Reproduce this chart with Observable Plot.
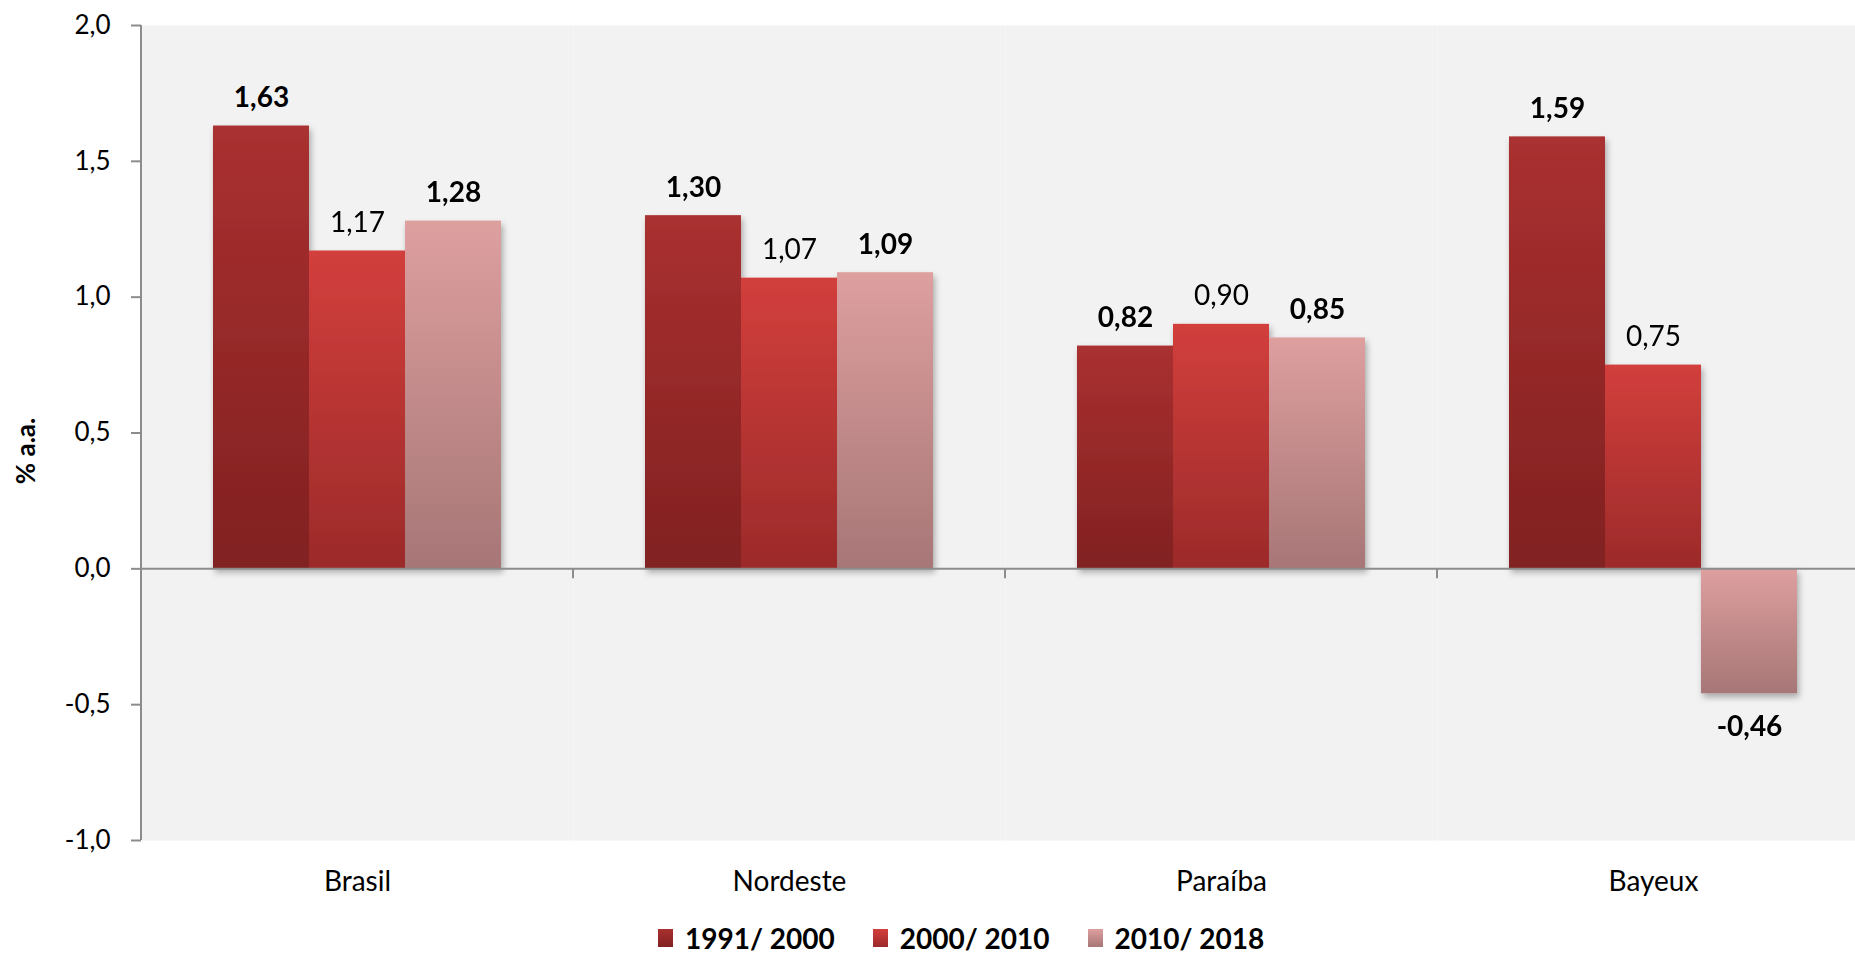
<!DOCTYPE html>
<html>
<head>
<meta charset="utf-8">
<script src="https://cdn.jsdelivr.net/npm/d3@7"></script>
<script src="https://cdn.jsdelivr.net/npm/@observablehq/plot@0.6"></script>
<style>
  html, body { margin: 0; padding: 0; background: white; overflow: hidden; }
  #wrap { width: 1855px; overflow: hidden; font-family: Lato, sans-serif; }
  #legend { display: flex; align-items: center; height: 52px; padding-left: 658px; font-family: Lato, sans-serif; font-weight: bold; font-size: 28px; color: black; }
  #legend .sw { width: 15px; height: 18px; margin-right: 12px; }
  #legend .lb { margin-right: 38px; white-space: pre; }
</style>
</head>
<body>
<div id="wrap"><div id="chart"></div><div id="legend"></div></div>
<script>
const categories = ["Brasil", "Nordeste", "Paraíba", "Bayeux"];
const series = ["1991/ 2000", "2000/ 2010", "2010/ 2018"];
const v1991_2000 = [1.63, 1.30, 0.82, 1.59];
const v2000_2010 = [1.17, 1.07, 0.90, 0.75];
const v2010_2018 = [1.28, 1.09, 0.85, -0.46];
const yTicks = [-1.0, -0.5, 0.0, 0.5, 1.0, 1.5, 2.0];
const yLabel = "% a.a.";
const boldSeries = ["1991/ 2000", "2010/ 2018"];

const gradTop = ["#aa3030", "#d23f3c", "#de9f9f"];
const gradBottom = ["#812121", "#9c2a2a", "#a77676"];
const gradIds = series.map((s, i) => "grad" + i);

const valuesBySeries = [v1991_2000, v2000_2010, v2010_2018];
const rows = [];
categories.forEach((c, ci) => {
  series.forEach((s, si) => rows.push({cat: c, ser: s, val: valuesBySeries[si][ci]}));
});

const fmtTick = d => d.toFixed(1).replace(".", ",");
const fmtVal = d => d.toFixed(2).replace(".", ",");

const plot = Plot.plot({
  width: 1869,
  height: 912,
  marginLeft: 141,
  marginRight: 0,
  marginTop: 25,
  marginBottom: 72,
  style: {fontFamily: "Lato, sans-serif", maxWidth: "none", background: "white", color: "black"},
  fx: {domain: categories, padding: 0, label: null},
  x: {domain: series, paddingInner: 0, paddingOuter: 0.7425, axis: null},
  y: {domain: [-1, 2], label: null},
  color: {type: "ordinal", domain: series, range: gradIds.map(id => `url(#${id})`)},
  marks: [
    Plot.frame({fill: "#f2f2f2"}),
    Plot.axisY({ticks: yTicks, tickFormat: fmtTick, tickSize: 10, tickPadding: 21, fontSize: 26, stroke: "#8c8c8c", strokeWidth: 2, label: null}),
    Plot.axisFx({anchor: "bottom", tickSize: 0, tickPadding: 31, fontSize: 28, label: null}),
    Plot.barY(rows, {fx: "cat", x: "ser", y: "val", fill: "ser"}),
    Plot.ruleY([0], {stroke: "#8c8c8c", strokeWidth: 2}),
    Plot.text(rows.filter(d => d.val >= 0 && boldSeries.includes(d.ser)), {fx: "cat", x: "ser", y: "val", text: d => fmtVal(d.val), lineAnchor: "bottom", dy: -19, fontSize: 28, fontWeight: "bold", fill: "black"}),
    Plot.text(rows.filter(d => d.val >= 0 && !boldSeries.includes(d.ser)), {fx: "cat", x: "ser", y: "val", text: d => fmtVal(d.val), lineAnchor: "bottom", dy: -19, fontSize: 28, fill: "black"}),
    Plot.text(rows.filter(d => d.val < 0), {fx: "cat", x: "ser", y: "val", text: d => fmtVal(d.val), lineAnchor: "top", dy: 22, fontSize: 28, fontWeight: "bold", fill: "black"}),
    Plot.text([{cat: categories[0], t: yLabel}], {fx: "cat", text: "t", frameAnchor: "left", rotate: -90, dx: -115, dy: 18, fontSize: 26, fontWeight: "bold", fill: "black", textAnchor: "middle"})
  ]
});

const svg = d3.select(plot);
const defs = svg.insert("defs", ":first-child");
gradIds.forEach((id, i) => {
  const g = defs.append("linearGradient").attr("id", id).attr("x1", 0).attr("y1", 0).attr("x2", 0).attr("y2", 1);
  g.append("stop").attr("offset", "0%").attr("stop-color", gradTop[i]);
  g.append("stop").attr("offset", "100%").attr("stop-color", gradBottom[i]);
});
const f = defs.append("filter").attr("id", "shadow").attr("x", "-20%").attr("y", "-10%").attr("width", "140%").attr("height", "130%");
f.append("feDropShadow").attr("dx", 2).attr("dy", 4).attr("stdDeviation", 3).attr("flood-color", "#000").attr("flood-opacity", 0.3);
svg.selectAll('g[aria-label="bar"]').attr("filter", "url(#shadow)");

const fx = plot.scale("fx");
const y = plot.scale("y");
const y0 = y.apply(0);
const extra = svg.append("g").attr("stroke", "#8c8c8c").attr("stroke-width", 2);
extra.append("line").attr("x1", fx.apply(categories[0])).attr("x2", fx.apply(categories[0]))
  .attr("y1", y.apply(2)).attr("y2", y.apply(-1));
categories.slice(1).forEach(c => {
  const xx = fx.apply(c);
  extra.append("line").attr("x1", xx).attr("x2", xx).attr("y1", y0).attr("y2", y0 + 10);
});

document.getElementById("chart").appendChild(plot);

const legend = d3.select("#legend");
series.forEach((s, i) => {
  legend.append("div").attr("class", "sw").style("background", `linear-gradient(to bottom, ${gradTop[i]}, ${gradBottom[i]})`);
  legend.append("div").attr("class", "lb").text(s);
});
</script>
</body>
</html>
